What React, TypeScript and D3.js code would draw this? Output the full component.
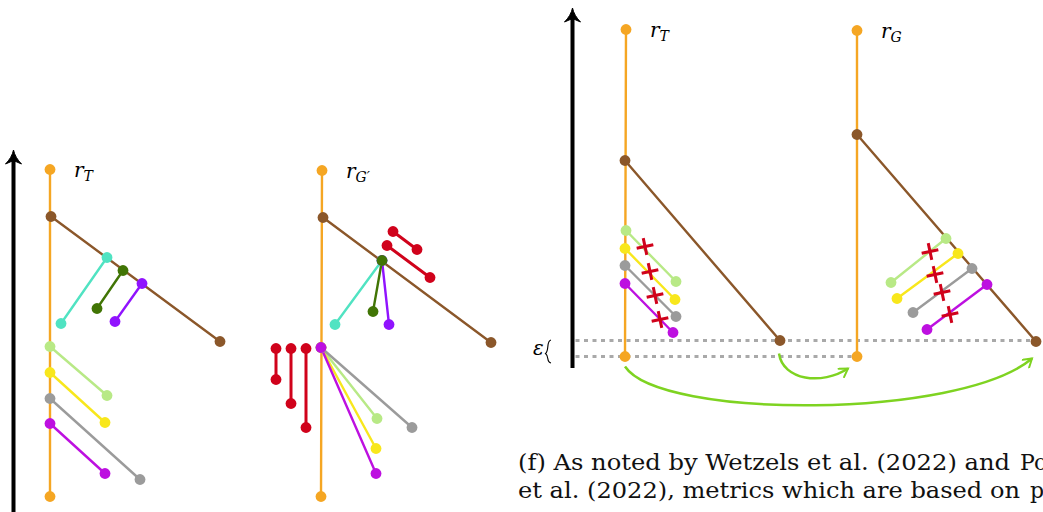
import * as d3 from "d3";

// edge = [branch key, x1, h1, x2, h2]  (x: offset from the trunk, h: height above the base)
type Edge = [string, number, number, number, number];

const BRANCH_KEYS = ["trunk", "brown", "cyan", "olive", "violet", "lime", "yellow", "gray", "magenta", "red"];
const BRANCH_COLORS = ["#f5a623", "#8b572a", "#50e3c2", "#417505", "#9013fe", "#b8e986", "#f8e71c", "#9b9b9b", "#bd10e0", "#d0021b"];

const treeT: Edge[] = [
  ["trunk", 0, 327, 0, 0],
  ["brown", 1, 280, 170, 155],
  ["cyan", 57, 239, 11, 173],
  ["olive", 73, 226, 47, 188],
  ["violet", 92, 213, 65, 175],
  ["lime", 0, 150, 57, 101],
  ["yellow", 0, 124, 55, 74],
  ["gray", 0, 98, 90, 17],
  ["magenta", 0, 73, 55, 23],
];

const treeGPrime: Edge[] = [
  ["trunk", 1, 326, 0, 0],
  ["brown", 2, 279, 170, 154],
  ["cyan", 61, 236, 14, 172],
  ["violet", 61, 236, 68, 172],
  ["olive", 61, 236, 52, 185],
  ["red", 72, 265, 96, 247],
  ["red", 66, 251, 109, 219],
  ["red", -45, 148, -45, 117],
  ["red", -30, 148, -30, 93],
  ["red", -15, 148, -15, 69],
  ["lime", 0, 149, 56, 78],
  ["yellow", 0, 149, 55, 48],
  ["gray", 0, 149, 91, 69],
  ["magenta", 0, 149, 55, 23],
];

const treeTRight: Edge[] = [
  ["trunk", 1, 327, 0, 0],
  ["brown", 0, 196, 155, 16],
  ["lime", 1, 126, 51, 75],
  ["yellow", 0, 108, 50, 57],
  ["gray", 0, 91, 51, 40],
  ["magenta", 0, 73, 48, 24],
];

const treeG: Edge[] = [
  ["trunk", 0, 326, 0, 0],
  ["brown", 0, 222, 179, 15],
  ["lime", 89, 118, 34, 74],
  ["yellow", 101, 103, 40, 58],
  ["gray", 115, 88, 56, 44],
  ["magenta", 130, 72, 70, 27],
];

const crossesT: [number, number][] = [[20, 110], [25, 85], [30, 61], [35, 37]];
const crossesG: [number, number][] = [[73, 105], [78, 82], [85, 64], [93, 42]];

const EPS_LEVELS = [0, 16];

const CAPTION_LINES: [string, string][] = [
  ["(f) As noted by Wetzels et al. (2022) and", "Po"],
  ["et al. (2022), metrics which are based on", "p"],
];

const W = 1043;
const H = 512;
const SERIF = "DejaVu Serif";

const color = d3.scaleOrdinal<string, string>().domain(BRANCH_KEYS).range(BRANCH_COLORS);

const yLeft = d3.scaleLinear().domain([0, 100]).range([496.5, 396.5]);
const yRight = d3.scaleLinear().domain([0, 100]).range([356.5, 256.5]);
const xAt = (trunk: number) => d3.scaleLinear().domain([0, 100]).range([trunk, trunk + 100]);

const panels = [
  { edges: treeT, x: xAt(50), y: yLeft, sub: "T", crosses: [] as [number, number][] },
  { edges: treeGPrime, x: xAt(321), y: yLeft, sub: "G\u2032", crosses: [] as [number, number][] },
  { edges: treeTRight, x: xAt(625), y: yRight, sub: "T", crosses: crossesT },
  { edges: treeG, x: xAt(857), y: yRight, sub: "G", crosses: crossesG },
];

function AxisArrow({ x, y0, y1 }: { x: number; y0: number; y1: number }) {
  return (
    <g>
      <line x1={x} x2={x} y1={y0} y2={y1 + 8} stroke="#000" strokeWidth={4} />
      <path
        transform={`translate(${x},${y1})`}
        d="M0,0 C1,5 4,10 8,14 L0,10.5 L-8,14 C-4,10 -1,5 0,0 Z"
        fill="#000"
        stroke="#000"
        strokeWidth={1}
      />
    </g>
  );
}

function Tree({ p }: { p: (typeof panels)[number] }) {
  const { edges, x, y } = p;
  const root = edges[0];
  return (
    <g>
      {edges.map((e, i) => (
        <line
          key={"l" + i}
          x1={x(e[1])}
          y1={y(e[2])}
          x2={x(e[3])}
          y2={y(e[4])}
          stroke={color(e[0])}
          strokeWidth={e[0] === "red" ? 3 : 2.4}
          strokeLinecap="round"
        />
      ))}
      {edges.map((e, i) => (
        <g key={"d" + i} fill={color(e[0])}>
          <circle cx={x(e[1])} cy={y(e[2])} r={5.4} />
          <circle cx={x(e[3])} cy={y(e[4])} r={5.4} />
        </g>
      ))}
      {p.crosses.map((c, i) => (
        <g
          key={"c" + i}
          transform={`translate(${x(c[0])},${y(c[1])}) rotate(-12)`}
          stroke={color("red")}
          strokeWidth={3}
        >
          <line x1={-8.5} x2={8.5} y1={0} y2={0} />
          <line x1={0} x2={0} y1={-8.5} y2={8.5} />
        </g>
      ))}
      <text x={x(root[1]) + 24} y={y(root[2]) + 7} style={{ fontFamily: SERIF }} fontStyle="italic" fontSize={20}>
        r
        <tspan dy={4} fontSize={14}>
          {p.sub}
        </tspan>
      </text>
    </g>
  );
}

export default function App() {
  const pT = panels[2];
  const pG = panels[3];
  const arrowX = 572.5;

  // green matching arrows between the right-hand trees
  const brownEndT: [number, number] = [pT.x(treeTRight[1][3]), pT.y(treeTRight[1][4])];
  const baseT: [number, number] = [pT.x(treeTRight[0][3]), pT.y(treeTRight[0][4])];
  const baseG: [number, number] = [pG.x(treeG[0][3]), pG.y(treeG[0][4])];
  const brownEndG: [number, number] = [pG.x(treeG[1][3]), pG.y(treeG[1][4])];

  const small = d3.path();
  small.moveTo(brownEndT[0] - 1, brownEndT[1] + 13);
  small.bezierCurveTo(brownEndT[0] + 3, brownEndT[1] + 40, baseG[0] - 35, baseG[1] + 29, baseG[0] - 9, baseG[1] + 12);

  const big = d3.path();
  big.moveTo(baseT[0], baseT[1] + 10);
  big.bezierCurveTo(baseT[0] + 35, baseT[1] + 63, brownEndG[0] - 76, brownEndG[1] + 78, brownEndG[0] - 4, brownEndG[1] + 17);

  const epsHi = yRight(EPS_LEVELS[1]);
  const epsLo = yRight(EPS_LEVELS[0]);
  const epsMid = (epsHi + epsLo) / 2;

  return (
    <svg width={W} height={H} style={{ position: "absolute", left: 0, top: 0, background: "#fff" }}>
      <defs>
        <marker id="gh" viewBox="-10 -6 12 12" refX={0} refY={0} markerWidth={12} markerHeight={12} markerUnits="userSpaceOnUse" orient="auto">
          <path d="M-8,-5 L0,0 L-8,5" fill="none" stroke="#7ed321" strokeWidth={2} strokeLinecap="round" />
        </marker>
      </defs>

      <AxisArrow x={13.5} y0={515} y1={150} />
      <AxisArrow x={arrowX} y0={368} y1={8} />

      {/* epsilon band */}
      <line x1={arrowX + 3} x2={W} y1={epsHi} y2={epsHi} stroke="#a9a9a9" strokeWidth={3} strokeDasharray="4 4.5" />
      <line x1={arrowX + 3} x2={baseG[0]} y1={epsLo} y2={epsLo} stroke="#a9a9a9" strokeWidth={3} strokeDasharray="4 4.5" />
      <text x={533} y={355} style={{ fontFamily: SERIF }} fontStyle="italic" fontSize={20}>
        ε
      </text>
      <path
        d={`M551,${epsHi - 0.5} C546,${epsHi + 0.5} 549.5,${epsMid + 2} 545.5,${epsMid + 5}
            C549.5,${epsMid + 8} 546,${epsLo + 5.5} 551,${epsLo + 6.5}`}
        fill="none"
        stroke="#000"
        strokeWidth={1.1}
      />

      {panels.map((p, i) => (
        <Tree key={i} p={p} />
      ))}

      <path d={small.toString()} fill="none" stroke="#7ed321" strokeWidth={2.5} markerEnd="url(#gh)" />
      <path d={big.toString()} fill="none" stroke="#7ed321" strokeWidth={2.5} markerEnd="url(#gh)" />

      {CAPTION_LINES.map((l, i) => (
        <g key={i} style={{ fontFamily: SERIF }} fontSize={22} fill="#111">
          <text x={518} y={470 + i * 28} textLength={i === 0 ? 492 : 502} lengthAdjust="spacingAndGlyphs">
            {l[0]}
          </text>
          <text x={i === 0 ? 1020 : 1030} y={470 + i * 28}>
            {l[1]}
          </text>
        </g>
      ))}
    </svg>
  );
}
